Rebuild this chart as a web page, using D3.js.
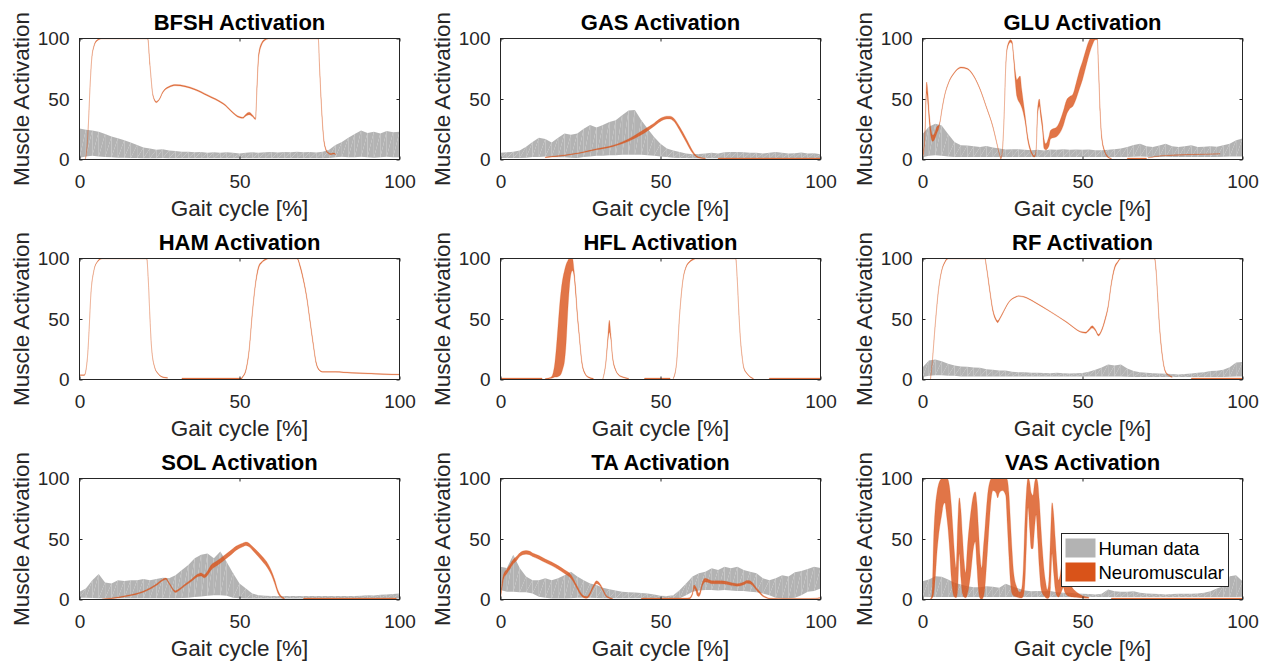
<!DOCTYPE html>
<html>
<head>
<meta charset="utf-8">
<script src="https://cdn.jsdelivr.net/npm/d3@7"></script>
<style>
  body { margin: 0; background: #fff; }
</style>
</head>
<body>
<svg id="chart" width="1266" height="664"></svg>
<script>
// gait cycle grid of the human EMG bands (%)
const gaitPct = [0,2,4,6,8,10,12,14,16,18,20,22,24,26,28,30,32,34,36,38,40,42,44,46,48,50,
  52,54,56,58,60,62,64,66,68,70,72,74,76,78,80,82,84,86,88,90,92,94,96,98,100];

const muscleNames = ['BFSH', 'GAS', 'GLU', 'HAM', 'HFL', 'RF', 'SOL', 'TA', 'VAS'];

// human data: upper / lower edge of the band (same grid as gaitPct)
const bfshHumanHi = [25.6,24.5,24,23,21,19,17.5,16,14,12,10,9,8,8.5,7.5,7,6.5,6.5,6,6.3,5.5,6,5.5,6,5.5,5,
  5.5,6,5.5,6,6.3,5.8,6.3,6,6.5,6,6.3,5.8,6.5,8,12,14.5,18,21,24,22,23,21.5,23.5,22.5,23];
const bfshHumanLo = [1.5,2.5,3,2.5,2,1.8,1.5,1.5,1.2,1.2,1,1,1,1.2,1,1,1,1,1.1,1,1,1,1,1,1,1,
  1,1,1,1,1,1,1,1,1,1,1,1,1.1,1.3,1.8,2.2,1.8,1.8,2.2,1.8,1.5,1.8,2.2,1.8,1.8];

const gasHumanHi = [5.5,6,6.5,7.5,10.5,14.5,18,17,14,18,21.5,20.5,21.5,25.5,28.5,26.5,28.5,31,32.5,36.5,40.5,41,32.5,25.5,18.5,13,
  9,7.5,6.3,5,4.4,4.5,5,5.5,5,6,6.3,6.3,6,5.5,5.5,5,5.5,6.3,5.5,5,5.2,5.8,5,5.2,4.4];
const gasHumanLo = [1.2,1.2,1.2,1.2,1.5,2,2,2.5,2,1.8,1.8,1.5,1.2,2,2.5,3,3,3.5,3.5,4,4,4,4,3.5,3,2.5,
  2,1.5,1.2,1.2,1,1,1,1,1,1,1,1,1,1,1,1,1,1,1,1,1,1,1,1,1];

const gluHumanHi = [21,27,29.5,28,21,14.5,11.8,11.5,11,10.4,11.2,10,9,8.2,8.5,8.5,8,7.7,8,7.5,8.2,8,8.5,8,8.2,8,
  8.3,7.7,7.7,8,8.5,9,10.4,12,13,11,10.4,11.5,13,11,10.4,11,11.8,10.4,10.5,11,10.5,11.8,13,16,17.3];
const gluHumanLo = [1.8,3,3.5,3,2.5,2,2,2,2,2,2,2,2,2,2,2,2,2,2,2,2,2,2,2,2,2,
  2,2,2,2,2,2,2,2.3,2.5,2.3,2,2,2.3,2,2,2,2,2,2,2,2,2.3,2.5,2.5,2.5];

const hamHumanHi = [];
const hamHumanLo = [];
const hflHumanHi = [];
const hflHumanLo = [];

const rfHumanHi = [10,15.7,16.5,15,13,11.6,10.8,10.5,10,9.7,8.5,8,7.5,7.5,6.5,6,6,5.5,5.5,5.3,5.2,5.5,5.2,5,5.2,5.3,
  6.5,8,10,12.5,11.6,12.4,9,7,6,5.5,5.2,5,4.7,4.5,4.1,4.5,5,5.5,6,7,7.3,8,10.2,14,14.4];
const rfHumanLo = [2,3,3.5,3.5,3,3,2.5,2.5,2.5,2.5,2.5,2.5,2.5,2.5,2.5,2.5,2.5,2.5,2.5,2.5,2.5,2.5,2.5,2.5,2.5,2.5,
  2.5,2.5,2.5,2.5,2.5,2.5,2.2,2,2,2,2,2,2,2,2,2,2,2,2,2,2,2,2.2,2.5,2.5];

const solHumanHi = [6.4,9,16,21,14,13.3,16,15.3,16,16,17,16,17,18,17.5,20,24.4,28.6,34,37,38,34,39.7,31,21.7,13.3,
  9,5,3.6,3,2.8,2.8,2.8,2.8,2.8,2.8,2.8,2.8,2.8,2.8,2.8,2.8,2.8,2.9,3,3.6,3.4,4,4.2,4.5,5];
const solHumanLo = [1.5,1.5,1.2,1,1,1,1,1,1,1,1,1,1,1,1,1,1.2,1.5,2,2.5,3,3.5,3.5,3,1.5,1,
  0.8,0.8,0.8,0.8,0.8,0.8,0.8,0.8,0.8,0.8,0.8,0.8,0.8,0.8,0.8,0.8,0.8,0.8,0.8,0.8,0.8,0.8,0.8,0.8,0.8];

const taHumanHi = [27,26,37,26,19,16,16,17.5,16,17.5,20,23,19,16,13.3,12,9.7,8.5,7.5,6.4,6,5.8,5.3,5,4.2,3,
  2.8,3.6,7.8,13.3,19,21.7,23,25.8,24.4,27,25.8,27,24.4,23,21.7,17.5,16,17.5,20,19,22.5,23.6,25.3,27,26];
const taHumanLo = [7.8,6.4,6.4,6,6,5,2.2,1.5,0.8,0.8,0.8,1,1.4,1.4,1.4,1.2,1,1,1,1,1,1,1,1,1,1,
  1,1,1,3.6,6.4,7.5,7.8,7.8,7.5,7.8,7.5,7,7,6.4,6,5,3.6,1.4,1,1,1.5,3.6,6.4,7,9];

const vasHumanHi = [15,16.6,19.3,18.8,16.6,13.8,12.4,11,10.2,10.2,11,10.5,9.7,13,11,9,7.5,6.9,7,6.9,7,6,5.5,5.5,5,4.7,
  4.5,4.1,4.7,8.3,6.9,6.5,6.4,6.9,5.5,5,4.7,4.5,4.1,4.5,4.7,4.7,4.7,5,5.5,6.9,9,11,19.3,20,15];
const vasHumanLo = [2.2,2,2,2,2,2,2,2,2,2,2,2,2,2,2,2,2,2,2,2,2,2,2,2,2,2,
  2,2,2,2,2,2,2,2,2,2,2,2,2,2,2,2,2,2,2,2,2,2,2,2,2.2];

// neuromuscular model: [gait %, lower, upper]; null breaks the band
const bfshModel = [[1.8,0,0.6],[2.3,8,9],[2.8,30,31],[3.3,60,61],[3.8,82,83],[4.5,93,94],[5.5,98,99],[7,99.6,100.6],
  [21.3,99.6,100.6],[22,78,79],[23,52,53],[24,47,48],[25,49.5,50.5],[26,55,56],[28,59.5,60.5],[30,61,62],[33,60,61],
  [36,57.5,58.5],[40,52.5,53.5],[45,45.5,46.5],[50,34.5,35.5],[51,34,35],[52,36,37.5],[53,37,39],[54,35.5,37],
  [55,33,34.2],[55.5,60,64],[56,84,88],[57,95,97],[58,98.5,99.5],[59,99.6,100.6],[74.6,99.6,100.6],[75,76,79],
  [75.5,48,51],[76,26,28.5],[76.5,12.5,14.5],[77.5,5.5,6.5],[78.5,4,5],[79.5,4.5,5.3],[80,4,4.6]];

const gasModel = [[14,1.5,2.1],[20,3.2,3.8],[25,5.2,5.8],[30,8,8.8],[35,10.6,11.6],[38,13,14.5],[40,15,17],[42,17.5,20],
  [45,22,25],[48,27.5,30],[50,31.5,34],[52,33.5,35.8],[53,33.5,35.8],[54,32,34.5],[56,24,27],[58,14.5,17.5],
  [60,5.3,7.5],[61,2.5,3.8],[62,1.2,2],[64,0.5,1.1], null, [68,0,1.2],[100,0,1.2]];

const gluModel = [[0,1,3],[0.7,15,20],[1.3,55,64],[1.7,45,55],[2.2,28,36],[2.7,18,24],[3.2,15,20],[3.8,17,22],
  [4.5,22,27],[5,25,28],[5.5,31,32],[6,39.5,40.5],[7,53.5,54.3],[8,62,62.8],[10,71.5,72.3],[12,75.7,76.5],
  [14,74.6,75.4],[16,68.6,69.4],[18,57.6,58.4],[20,42.6,43.4],[22,26.6,27.4],[23,15.6,16.4],[24,4.6,5.4],
  [24.5,0.5,1.2],[25,8,9],[25.5,35,36],[26,75,77],[26.5,91.5,93.5],[27.5,97,99],[28,95.5,97.5],[28.5,82,86],
  [29,64,73],[29.5,52,66],[30.5,46,69],[31,43,58],[32,32,38],[33,14,17.5],[34,5,7],[35,2,3],[35.5,7,8.5],
  [36,37,43],[36.5,44,50],[37,34,40],[37.5,24,30],[38,9,17],[38.5,8,13],[39.5,11,19],[40,17,24],[42,19,27],
  [44,28,40],[45,37,49],[46,42,52],[47,44,54],[48,50,63],[49,58,73],[50,66,81],[51,76,90],[52,86,98],
  [53,94,100.6],[54,99,100.6],[54.6,99,100.6],[55,74,78],[55.5,38,42],[56,17,20],[57,5.5,7],[58,1.5,2.5],
  [59,0.5,1.1], null, [64,0,1.2],[70,0,1.2], null, [70.5,1.2,1.5],[75,3,3.3],[85,4,4.3],[93,4.5,4.8]];

const hamModel = [[0,3.3,3.9],[1.5,3.3,3.9],[2.5,18.4,19],[3,40.7,41.3],[3.5,67.7,68.3],[4.5,89.7,90.3],
  [5.5,96.7,97.3],[7,99.6,100.6],[21,99.6,100.6],[21.5,81.7,82.3],[22,51.7,52.3],[22.5,26.7,27.3],[23.5,9.7,10.3],
  [24.5,4.7,5.3],[26,1.7,2.3],[27.5,1,1.6], null, [32,0,1.2],[50.5,0,1.2],[51,1.8,2.6],[52,7,8.4],[53,23,25],
  [54,53.5,55.5],[55,78,80],[56,92,94],[57,96.5,97.5],[58,98.5,99.5],[59,99.6,100.6],[68,99.6,100.6],[69,92,94],
  [70,81,83],[71,67,69],[72,48,50],[73,29,31],[74,12.5,14],[75,7.3,8.1],[76,6,6.6],[80,6,6.6],[85,5.2,5.8],
  [90,4.7,5.3],[95,4.1,4.7],[100,3.8,4.4]];

const hflModel = [[0,0,1.2],[13,0,1.2], null, [14,0.2,0.8],[15,0.5,1.2],[16,1,2.5],[16.5,1.5,6],[17,2,14],
  [17.5,2,28],[18,2.5,45],[18.5,3,62],[19,5,75],[19.5,9,84],[20,15,90],[20.5,30,95],[21,55,98],[21.5,75,100],
  [22,87,100],[22.5,90,100],[23,85,90],[23.5,70,75],[24,52,56],[24.5,38,41],[25.5,12,14],[26.5,4,5],[27.5,1.5,2.2],
  [29,0.4,1], null, [32,0.3,0.9],[33,15,17],[33.5,30,34],[34,39,49],[34.5,33,37],[35,18,20],[36,7.2,8.2],
  [37,3.3,3.9],[38,1.9,2.5],[40,0.5,1.1], null, [45,0,1.2],[53,0,1.2], null, [54,0.5,1.1],[55,12.5,13.5],
  [56,54,55],[57,81.5,82.5],[58,92.5,93.5],[59,96.5,97.5],[60,98.5,99.5],[61,99.6,100.6],[73.5,99.6,100.6],
  [74,81.5,82.5],[74.5,54,55],[75,32,33],[75.5,18.5,19.5],[76,9.5,10.5],[77,4.7,5.3],[78,1.9,2.5],[79,0.5,1.1],
  null, [84,0,1.2],[100,0,1.2]];

const rfModel = [[2.5,0,0.6],[3,12.7,13.3],[4,45.5,46.5],[5,73.5,74.5],[6,89.5,90.5],[7,96.5,97.5],[8,99.6,100.6],
  [19.5,99.6,100.6],[20,92,93.5],[21,73,75],[22,56,58],[23,48.5,50],[23.5,47,48.5],[24,49,50.2],[25,54,55],
  [27,63.7,64.3],[29,67.7,68.3],[30,68.7,69.3],[32,67.7,68.3],[35,63.7,64.3],[40,55.7,56.3],[45,47.2,47.8],
  [50,38.6,39.4],[51,38.2,39.2],[52,40.3,41.7],[53,42.5,44.5],[54,40.3,41.7],[55,36,37.3],[56,40,41.5],[57,48,50],
  [58,59,61],[59,78,80],[60,91,93],[61,96.5,97.5],[62,99.6,100.6],[72.5,99.6,100.6],[73,89,91],[73.5,67,69.5],
  [74,45,47.5],[74.5,29,31.5],[75,17.5,19.5],[75.5,9.5,11],[76,5.5,6.7],[77,3,3.8],[78,1.7,2.3], null,
  [84,0,1.2],[100,0,1.2]];

const solModel = [[7,0,0.5],[10,0.6,1.2],[15,2.7,3.5],[20,6,7],[24,11.5,12.8],[26,15.5,16.8],[27,16.5,17.8],
  [28,12.8,14],[30,5.8,7.2],[31,7.2,8.6],[33,11.3,12.8],[35,15,16.8],[37,19,21],[38,19.5,22],[39,18,20.5],
  [40,20,23.5],[41,24,28],[43,28,32],[45,32,36],[47,36.2,40],[49,40.8,44.2],[51,43.5,46.5],[52,44.6,47.5],
  [53,43.5,46.5],[54,41,44],[55,38,41.5],[57,32,36],[59,25,29],[60,20,23.5],[61,13,16.5],[62,5.2,7.8],[63,1.6,3],
  [64,0.4,1.2], null, [70,0,1.2],[99,0,1.2]];

const taModel = [[0,0.5,1.2],[0.5,10,14],[1,17,21],[2,21.5,25],[3,25.5,29],[4,29.5,33],[5,32,35.5],[6,35.5,38.5],
  [7,37,40],[8,37.5,40.5],[9,37,40],[10,35.5,38.5],[12,33.3,36.3],[14,30.5,33.5],[16,28,31],[18,25,28],
  [20,21.5,24.5],[22,17.5,20.5],[23,13.5,16],[24,8.5,11],[25,4,6],[26,1.5,3],[27,1,2.4],[28,4,6],[29,9.5,11.5],
  [30,13,15.4],[31,11.5,13.5],[32,7,8.8],[33,2.4,3.6],[34,0.9,1.9],[35,0.3,0.9], null, [44,0,1.2],[58,0,1.2],
  [59,0.4,1.4],[60,4,6],[60.5,9,12],[61,7.5,10.5],[61.5,3,8],[62,2.5,5],[62.5,5,8],[63,10.5,13.5],[64,14.5,17.5],
  [65,14,16.5],[66,13,15.5],[68,13,15.5],[70,12.8,15.2],[72,11.7,14],[74,11,13],[76,12.2,14.4],[77,13.5,15.8],
  [78,13,15.4],[79,11,13],[80,7.6,9.6],[81,5,6.6],[82,2.4,3.6],[83,1.3,2.1],[84,0.5,1.1],[90,0.3,0.8],
  [97,0.4,0.9],[100,1.1,1.7]];

const vasModel = [[2.5,0,0.6],[3,1,5],[3.5,5,52],[4,18,76],[4.5,38,88],[5,52,95],[6,70,100],[6.5,78,100.6],[7,80,100.6],
  [7.5,70,100.6],[8,58,99],[8.5,40,92],[9,18,78],[9.5,6,58],[10,2,38],[10.5,1.5,26],[11,8,62],[11.5,38,84],[12,18,74],
  [12.5,5,52],[13,2,32],[13.5,1.5,22],[14,4,42],[15,20,70],[16,44,87],[16.5,48,89],[17,28,80],[17.5,8,58],[18,1,36],
  [18.5,0,26],[19,2,42],[19.5,10,58],[20,28,76],[20.5,48,90],[21,68,97],[21.5,84,100],[22,90,100.6],[23,88,100.6],
  [23.5,84,100.6],[24,88,100.6],[25,90,100.6],[26,86,100.6],[26.5,62,99],[27,36,88],[27.5,14,64],[28,5,40],[28.5,3,22],
  [29.5,2,10],[30.5,1.2,6],[31,1.2,9],[31.5,3,26],[32,14,64],[32.5,46,90],[33,76,100.6],[33.5,58,97],[34,42,88],
  [34.5,42,86],[35,58,96],[35.5,70,100.6],[36,50,97],[36.5,26,82],[37,10,60],[37.5,5,40],[38,3,24],[38.5,1.5,14],
  [39,0.8,8],[39.5,1.5,16],[40,10,52],[40.5,38,80],[41,22,70],[41.5,8,50],[42,3,30],[42.5,2,16],[43,4,20],
  [43.5,7,30],[44,10,36],[44.5,6,30],[45,4,23],[46,2.5,14],[47,2,9],[48,1.8,6.5],[49,1.5,4.5],[50,1.2,3],
  [52,1,1.8], null, [59,0,1.2],[100,0,1.2]];

const tickValues = [0, 50, 100];
const legendLabels = ['Human data', 'Neuromuscular'];

const humanHi = [bfshHumanHi, gasHumanHi, gluHumanHi, hamHumanHi, hflHumanHi, rfHumanHi, solHumanHi, taHumanHi, vasHumanHi];
const humanLo = [bfshHumanLo, gasHumanLo, gluHumanLo, hamHumanLo, hflHumanLo, rfHumanLo, solHumanLo, taHumanLo, vasHumanLo];
const models = [bfshModel, gasModel, gluModel, hamModel, hflModel, rfModel, solModel, taModel, vasModel];

const FONT = '"Liberation Sans", Arial, Helvetica, sans-serif';
const AXIS_COLOR = '#262626';
const HUMAN_COLOR = '#b3b3b3';
const MODEL_COLOR = '#d95319';

const colLeft = [79, 500, 922],
    rowTop = [38, 258, 478],
    plotW = 320,
    plotH = 121;

const svg = d3.select('#chart');

const x = d3.scaleLinear().domain([0, 100]).range([0, plotW]);
const y = d3.scaleLinear().domain([0, 100]).range([plotH, 0]);

const band = d3.area()
    .defined(d => d)
    .x(d => x(d[0]))
    .y0(d => y(d[1]))
    .y1(d => y(d[2]))
    .curve(d3.curveMonotoneX);

function styleAxis(sel, showText) {
    sel.attr('font-size', 19).attr('font-family', FONT);
    sel.select('.domain').remove();
    sel.selectAll('line').attr('stroke', AXIS_COLOR);
    sel.selectAll('text').attr('fill', AXIS_COLOR);
    if (!showText) sel.selectAll('text').remove();
}

muscleNames.forEach((name, i) => {
    const g = svg.append('g')
        .attr('transform', 'translate(' + (colLeft[i % 3] + 0.5) + ',' + (rowTop[Math.floor(i / 3)] + 0.5) + ')');

    g.append('clipPath').attr('id', 'clip' + i)
        .append('rect').attr('width', plotW).attr('height', plotH);

    const plot = g.append('g').attr('clip-path', 'url(#clip' + i + ')');

    // human band, drawn as a strip of triangles like the patch in the original
    const hi = humanHi[i], lo = humanLo[i];
    const tris = [];
    for (let k = 0; k < hi.length - 1; k++) {
        tris.push([[gaitPct[k], lo[k]], [gaitPct[k], hi[k]], [gaitPct[k + 1], hi[k + 1]]]);
        tris.push([[gaitPct[k], lo[k]], [gaitPct[k + 1], hi[k + 1]], [gaitPct[k + 1], lo[k + 1]]]);
    }
    plot.selectAll('path.human')
        .data(tris)
        .join('path')
        .attr('class', 'human')
        .attr('d', t => 'M' + t.map(q => x(q[0]) + ',' + y(q[1])).join('L') + 'Z')
        .attr('fill', HUMAN_COLOR);

    // neuromuscular band
    plot.append('path')
        .datum(models[i])
        .attr('d', band)
        .attr('fill', MODEL_COLOR)
        .attr('fill-opacity', 0.8)
        .attr('stroke', MODEL_COLOR)
        .attr('stroke-width', 0.4)
        .attr('stroke-opacity', 0.6);

    // axes, ticks inside on all four sides
    g.append('g')
        .attr('transform', 'translate(0,' + plotH + ')')
        .call(d3.axisBottom(x).tickValues(tickValues).tickSize(-3).tickSizeOuter(0).tickPadding(15))
        .call(s => styleAxis(s, true));
    g.append('g')
        .call(d3.axisTop(x).tickValues(tickValues).tickSize(-3).tickSizeOuter(0))
        .call(s => styleAxis(s, false));
    g.append('g')
        .call(d3.axisLeft(y).tickValues(tickValues).tickSize(-3).tickSizeOuter(0).tickPadding(10))
        .call(s => styleAxis(s, true));
    g.append('g')
        .attr('transform', 'translate(' + plotW + ',0)')
        .call(d3.axisRight(y).tickValues(tickValues).tickSize(-3).tickSizeOuter(0))
        .call(s => styleAxis(s, false));

    g.append('rect')
        .attr('width', plotW)
        .attr('height', plotH)
        .attr('fill', 'none')
        .attr('stroke', AXIS_COLOR)
        .attr('stroke-width', 1);

    g.append('text')
        .attr('x', plotW / 2)
        .attr('y', -9)
        .attr('text-anchor', 'middle')
        .attr('font-family', FONT)
        .attr('font-size', 22)
        .attr('font-weight', 'bold')
        .attr('fill', '#000')
        .text(name + ' Activation');

    g.append('text')
        .attr('x', plotW / 2)
        .attr('y', plotH + 56)
        .attr('text-anchor', 'middle')
        .attr('font-family', FONT)
        .attr('font-size', 22.5)
        .attr('fill', AXIS_COLOR)
        .text('Gait cycle [%]');

    g.append('text')
        .attr('transform', 'translate(-51,' + (plotH / 2) + ') rotate(-90)')
        .attr('text-anchor', 'middle')
        .attr('font-family', FONT)
        .attr('font-size', 22.5)
        .attr('fill', AXIS_COLOR)
        .text('Muscle Activation');

    // legend sits in the last panel
    if (i === muscleNames.length - 1) {
        const lg = g.append('g').attr('transform', 'translate(139,55)');
        lg.append('rect')
            .attr('width', 167).attr('height', 53)
            .attr('fill', '#fff')
            .attr('stroke', AXIS_COLOR).attr('stroke-width', 1);
        [HUMAN_COLOR, MODEL_COLOR].forEach((c, j) => {
            lg.append('rect')
                .attr('x', 4).attr('y', 5 + j * 24)
                .attr('width', 30).attr('height', 19)
                .attr('fill', c);
            lg.append('text')
                .attr('x', 37).attr('y', 15 + j * 24)
                .attr('dy', '0.35em')
                .attr('font-family', FONT)
                .attr('font-size', 18.5)
                .attr('fill', '#000')
                .text(legendLabels[j]);
        });
    }
});
</script>
</body>
</html>
